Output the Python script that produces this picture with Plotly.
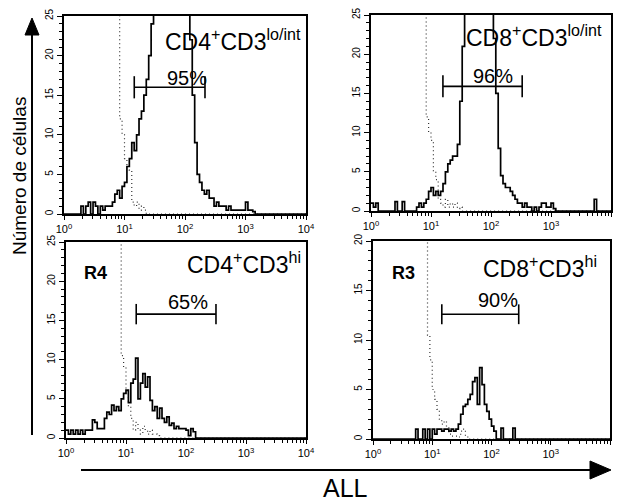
import plotly.graph_objects as go

W, H = 618, 502
BIN = 0.04          # width of one histogram channel, in decades
NBINS = 100

# ---------------- data (counts per channel) ----------------
p1_solid = [0, 0, 0, 0, 0, 0, 0, 1, 0, 1, 1.5, 0, 1.5, 1, 0, 1, 0.5, 1, 1, 1,
            1.5, 2.5, 3, 2, 3.5, 4, 6, 7, 9, 8, 10, 12, 13, 15, 17, 20, 24, 28,
            32, 36, 40, 44, 46, 48, 48, 46, 44, 42, 40, 36, 32, 28,
            22, 15, 9, 5, 4, 3, 2.5, 3, 2, 2, 1, 1.5, 1, 1, 1, 0.5, 1,
            0.5, 0.5, 0.5, 0.5, 0.5, 0.5, 1.5, 0.5, 0.5, 0.3]
p1_dotted = [60] * 22 + [30, 12, 10, 7, 6, 5.5, 1.5, 1, 1.5, 0.5, 1, 0.5]

p2_solid = [1, 0.5, 1, 0, 0, 0, 0, 0, 0, 0, 1.2, 0, 0, 1.2, 0, 0, 0, 0, 0,
            0.5, 1, 0.5, 1, 1.5, 2.5, 3, 2, 2.5, 2, 2.5, 3.5, 5, 6, 6.5, 7, 7,
            8.5, 14, 21, 26, 32, 38, 44, 50, 54, 56, 55, 52, 46, 40, 33,
            22, 15, 8, 4.5, 3.5, 3, 3, 2.5, 2, 1.5, 1, 1, 0.5, 1, 0.5, 0.5, 0,
            0.5, 0, 0.5, 1, 1, 0.5, 0.5, 1, 0.3,
            0, 0, 0, 0, 0, 0, 0, 0, 0, 0, 0, 0, 0, 0, 0, 0, 1.5]
p2_dotted = [60] * 22 + [40, 12, 10, 9, 5, 4, 1.5, 1, 0.5, 1.5, 0.5, 1, 0.5, 1, 0.3, 0.5]

p3_solid = [1, 0.5, 1, 0.5, 1, 0.5, 1, 0.5, 1, 1, 1, 2.3, 2, 1.2, 1.2, 1.2,
            2.5, 3.3, 3, 4.2, 3.5, 4, 3.5, 5, 5.7, 6.1, 4.5, 7, 7.5, 10.2, 5,
            7, 8.2, 6.5, 7.8, 4.8, 3.5, 4, 2.5, 3.8, 2.5, 2, 2.7, 1.6, 1.9,
            1.2, 1.5, 1.2, 1.2, 1.2, 1, 0.3, 1.2, 0.8]
p3_dotted = [60] * 22 + [40, 10.5, 9, 6, 4, 2.5, 1, 2, 1, 0.5, 1.5, 1, 0.5, 1, 0.5, 0.5, 0.3]

p4_solid = [0] * 18 + [1, 0, 0, 1, 0, 1, 0, 1, 0.5, 1, 1, 0.8, 1, 1, 0.8, 1,
            0.8, 1, 1.5, 2.5, 3.3, 3.5, 4, 4.5, 5.8, 6.2, 3.5, 7.2, 5.5, 3.5,
            2.8, 2, 1.3, 0.8, 0, 0, 1.1, 0, 0, 0, 0, 1.1]
p4_dotted = [60] * 22 + [30, 10.5, 8, 5, 4, 3, 2, 1.5, 1.8, 1.2, 0.5, 0.3, 0.3, 0.3, 0.2, 0.8, 1, 0.3]

panel_titles = ["CD4<sup>+</sup>CD3<sup>lo/int</sup>", "CD8<sup>+</sup>CD3<sup>lo/int</sup>",
                "CD4<sup>+</sup>CD3<sup>hi</sup>", "CD8<sup>+</sup>CD3<sup>hi</sup>"]
gate_pct = ["95%", "96%", "65%", "90%"]
region_labels = ["", "", "R4", "R3"]
gate_low = [14.5, 15.8, 14.8, 14.5]
gate_high = [214, 331, 316, 288]
gate_y = [16, 15.9, 15.8, 12.6]
gate_cap = [1.4, 1.4, 1.3, 1.0]
y_max = [25, 25, 25, 20]
x_tickvals = [1, 10, 100, 1000, 10000]
x_ticktext = ["10<sup>0</sup>", "10<sup>1</sup>", "10<sup>2</sup>", "10<sup>3</sup>", "10<sup>4</sup>"]

solid = [p1_solid, p2_solid, p3_solid, p4_solid]
dotted = [p1_dotted, p2_dotted, p3_dotted, p4_dotted]

# ---------------- layout helpers (pixel -> paper) ----------------
def px(x):
    return x / W

def py(y):
    return 1 - y / H

# plot-area boxes in pixels: (left, right, top, bottom)
boxes = [(64, 306, 16, 214), (371, 611, 15, 211), (66, 306, 242, 438), (373, 610, 241, 439)]
title_pos = [(303, 40), (604, 36), (303, 263), (599, 267)]
pct_pos = [(187, 78), (493, 76), (188, 302), (498, 300)]
reg_pos = [(0, 0), (0, 0), (95, 273), (403, 273)]

FONT = "Liberation Sans, Arial, Helvetica, sans-serif"

def steps(counts):
    c = counts + [0] * (NBINS - len(counts))
    xs = [10 ** (BIN * i) for i in range(NBINS + 1)]
    ys = c + [0]
    return xs, ys

fig = go.Figure()
layout = dict(template="none", width=W, height=H, margin=dict(l=0, r=0, t=0, b=0, pad=0),
              autosize=False, paper_bgcolor="white", plot_bgcolor="white", showlegend=False,
              font=dict(family=FONT, color="black"))
annotations = []

for k in range(4):
    sfx = "" if k == 0 else str(k + 1)
    xa, ya = "x" + sfx, "y" + sfx
    l, r, t, b = boxes[k]

    xd, yd = steps(dotted[k])
    fig.add_trace(go.Scatter(x=xd, y=yd, mode="lines", line_shape="hv",
                             line=dict(color="#333", width=1.2, dash="1px,3px"),
                             xaxis=xa, yaxis=ya, hoverinfo="skip"))
    xs, ys = steps(solid[k])
    fig.add_trace(go.Scatter(x=xs, y=ys, mode="lines", line_shape="hv",
                             line=dict(color="black", width=1.7),
                             xaxis=xa, yaxis=ya, hoverinfo="skip"))
    # gate marker
    lo, hi, gy, cp = gate_low[k], gate_high[k], gate_y[k], gate_cap[k]
    fig.add_trace(go.Scatter(x=[lo, hi, None, lo, lo, None, hi, hi],
                             y=[gy, gy, None, gy - cp, gy + cp, None, gy - cp, gy + cp],
                             mode="lines", line=dict(color="black", width=1.6),
                             xaxis=xa, yaxis=ya, hoverinfo="skip"))

    layout["xaxis" + sfx] = dict(
        type="log", range=[0, 4], domain=[px(l), px(r)], anchor=ya, automargin=False,
        tickmode="array", tickvals=x_tickvals, ticktext=x_ticktext,
        ticks="outside", ticklen=4, tickwidth=1.3, tickcolor="black",
        minor=dict(ticks="outside", ticklen=3, tickwidth=1, tickcolor="black",
                   dtick="D1", showgrid=False),
        showline=True, linewidth=2, linecolor="black", mirror=True,
        showgrid=False, zeroline=False,
        tickfont=dict(family=FONT, size=11, color="black"))
    layout["yaxis" + sfx] = dict(
        range=[0, y_max[k]], domain=[py(b), py(t)], anchor=xa, automargin=False,
        dtick=5, tick0=0, ticks="outside", ticklen=5, tickwidth=1.3, tickcolor="black",
        minor=dict(ticks="outside", ticklen=3, tickwidth=1, tickcolor="black",
                   dtick=1, showgrid=False),
        tickangle=-90, showline=True, linewidth=2, linecolor="black", mirror=True,
        showgrid=False, zeroline=False,
        tickfont=dict(family=FONT, size=10, color="black"))

    tx, ty = title_pos[k]
    annotations.append(dict(text=panel_titles[k], x=px(tx), y=py(ty), xref="paper", yref="paper",
                            xanchor="right", yanchor="middle", showarrow=False,
                            font=dict(family=FONT, size=23, color="black")))
    cx, cy = pct_pos[k]
    annotations.append(dict(text=gate_pct[k], x=px(cx), y=py(cy), xref="paper", yref="paper",
                            xanchor="center", yanchor="middle", showarrow=False,
                            font=dict(family=FONT, size=20, color="black")))
    if region_labels[k]:
        rx, ry = reg_pos[k]
        annotations.append(dict(text="<b>" + region_labels[k] + "</b>", x=px(rx), y=py(ry),
                                xref="paper", yref="paper", xanchor="center", yanchor="middle",
                                showarrow=False, font=dict(family=FONT, size=18, color="black")))

annotations.append(dict(text="Número de células", x=px(19), y=py(176), xref="paper", yref="paper",
                        xanchor="center", yanchor="middle", textangle=-90, showarrow=False,
                        font=dict(family=FONT, size=19, color="black")))
annotations.append(dict(text="ALL", x=px(345), y=py(488), xref="paper", yref="paper",
                        xanchor="center", yanchor="middle", showarrow=False,
                        font=dict(family=FONT, size=25, color="black")))

shapes = [
    dict(type="line", xref="paper", yref="paper", x0=px(32), x1=px(32), y0=py(435), y1=py(30),
         line=dict(color="black", width=2)),
    dict(type="path", xref="paper", yref="paper",
         path=f"M {px(32)} {py(18)} L {px(25)} {py(35)} L {px(39)} {py(35)} Z",
         fillcolor="black", line=dict(color="black", width=1)),
    dict(type="line", xref="paper", yref="paper", x0=px(81), x1=px(595), y0=py(470), y1=py(470),
         line=dict(color="black", width=2)),
    dict(type="path", xref="paper", yref="paper",
         path=f"M {px(611)} {py(470)} L {px(590)} {py(461)} L {px(590)} {py(479)} Z",
         fillcolor="black", line=dict(color="black", width=1)),
]

layout["annotations"] = annotations
layout["shapes"] = shapes
fig.update_layout(**layout)
fig.write_html("out.html", config={"displayModeBar": False},
               post_script="document.body.style.margin='0px';document.body.style.padding='0px';"
                           "document.documentElement.style.overflow='hidden';")
